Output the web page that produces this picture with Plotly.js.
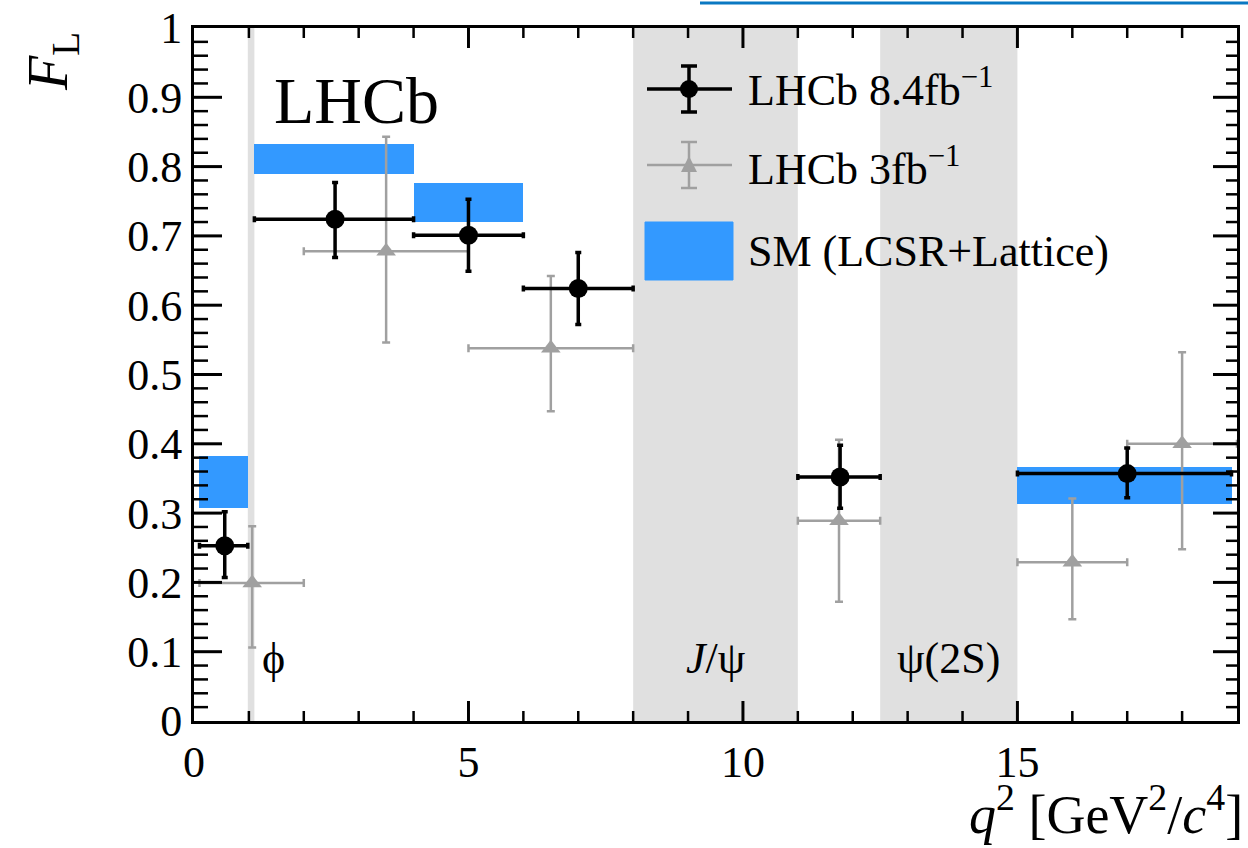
<!DOCTYPE html>
<html>
<head>
<meta charset="utf-8">
<script src="https://cdn.plot.ly/plotly-3.0.1.min.js"></script>
<style>html,body{margin:0;padding:0;background:#fff;}#plot{width:1248px;height:848px;}</style>
</head>
<body>
<div id="plot"></div>
<script>
// ---- data ----
// LHCb 8.4 fb^-1
const binLo84 = [0.1, 1.1, 4.0, 6.0, 11.0, 15.0];
const binHi84 = [0.98, 4.0, 6.0, 8.0, 12.5, 18.9];
const q2_84   = [0.56, 2.57, 5.0, 7.0, 11.77, 17.0];
const fl84    = [0.253, 0.724, 0.701, 0.624, 0.352, 0.357];
const fl84Up  = [0.302, 0.777, 0.753, 0.676, 0.398, 0.394];
const fl84Dn  = [0.207, 0.669, 0.649, 0.572, 0.307, 0.322];
// LHCb 3 fb^-1
const binLo3 = [0.1, 2.0, 5.0, 11.0, 15.0, 17.0];
const binHi3 = [2.0, 5.0, 8.0, 12.5, 17.0, 19.0];
const q2_3   = [1.06, 3.5, 6.5, 11.75, 16.0, 18.0];
const fl3    = [0.199, 0.678, 0.538, 0.289, 0.229, 0.400];
const fl3Up  = [0.281, 0.843, 0.642, 0.406, 0.321, 0.532];
const fl3Dn  = [0.106, 0.546, 0.447, 0.172, 0.147, 0.248];
// SM (LCSR+Lattice)
const smLo   = [0.1, 1.1, 4.0, 15.0];
const smHi   = [0.98, 4.0, 6.0, 18.9];
const smMin  = [0.307, 0.790, 0.720, 0.313];
const smMax  = [0.382, 0.833, 0.777, 0.367];
// vetoed regions
const vetoLo = [0.98, 8.0, 12.5];
const vetoHi = [1.1, 11.0, 15.0];
const vetoNames = ['ϕ', '<i>J</i>/ψ', 'ψ(2S)'];
const vetoLabelX = [1.45, 9.5, 13.75];

const X_RANGE = [0, 19];
const Y_RANGE = [0, 1];

const FONT = 'Liberation Serif, Times New Roman, serif';
const BLUE = '#3399ff';
const GREY = '#a0a0a0';

const traces = [
  {
    type: 'bar', name: 'SM (LCSR+Lattice)',
    x: smLo.map((l, i) => (l + smHi[i]) / 2),
    width: smLo.map((l, i) => smHi[i] - l),
    base: smMin,
    y: smMin.map((m, i) => smMax[i] - m),
    marker: {color: BLUE, line: {width: 0}},
    showlegend: false, hoverinfo: 'skip'
  },
  {
    type: 'scatter', mode: 'markers', name: 'LHCb 3fb-1',
    x: q2_3, y: fl3,
    marker: {symbol: 'triangle-up', size: 17, color: GREY},
    error_x: {type: 'data', symmetric: false,
      array: binHi3.map((h, i) => h - q2_3[i]),
      arrayminus: binLo3.map((l, i) => q2_3[i] - l),
      color: GREY, thickness: 2.5, width: 4},
    error_y: {type: 'data', symmetric: false,
      array: fl3Up.map((u, i) => u - fl3[i]),
      arrayminus: fl3Dn.map((d, i) => fl3[i] - d),
      color: GREY, thickness: 2.5, width: 4},
    showlegend: false
  },
  {
    type: 'scatter', mode: 'markers', name: 'LHCb 8.4fb-1',
    x: q2_84, y: fl84,
    marker: {symbol: 'circle', size: 19, color: '#000'},
    error_x: {type: 'data', symmetric: false,
      array: binHi84.map((h, i) => h - q2_84[i]),
      arrayminus: binLo84.map((l, i) => q2_84[i] - l),
      color: '#000', thickness: 3.5, width: 3},
    error_y: {type: 'data', symmetric: false,
      array: fl84Up.map((u, i) => u - fl84[i]),
      arrayminus: fl84Dn.map((d, i) => fl84[i] - d),
      color: '#000', thickness: 3.5, width: 3},
    showlegend: false
  }
];

// veto bands
const shapes = vetoLo.map((l, i) => ({
  type: 'rect', xref: 'x', yref: 'paper', x0: l, x1: vetoHi[i], y0: 0, y1: 1,
  fillcolor: '#e0e0e0', line: {width: 0}, layer: 'below'
}));

// ROOT-style inside ticks on all four edges (placed through the axis scales)
function xTick(v, len, w) {
  shapes.push({type: 'line', xref: 'x', yref: 'paper', ysizemode: 'pixel', yanchor: 0,
    x0: v, x1: v, y0: 0, y1: len, line: {color: '#000', width: w}, layer: 'above'});
  shapes.push({type: 'line', xref: 'x', yref: 'paper', ysizemode: 'pixel', yanchor: 1,
    x0: v, x1: v, y0: -len, y1: 0, line: {color: '#000', width: w}, layer: 'above'});
}
function yTick(v, lenL, lenR, w) {
  shapes.push({type: 'line', xref: 'paper', yref: 'y', xsizemode: 'pixel', xanchor: 0,
    x0: 0, x1: lenL, y0: v, y1: v, line: {color: '#000', width: w}, layer: 'above'});
  shapes.push({type: 'line', xref: 'paper', yref: 'y', xsizemode: 'pixel', xanchor: 1,
    x0: -lenR, x1: 0, y0: v, y1: v, line: {color: '#000', width: w}, layer: 'above'});
}
for (let i = 1; i < 19; i++) {
  if (i % 5 === 0) xTick(i, 20, 3); else xTick(i, 10, 2.5);
}
for (let j = 1; j < 50; j++) {
  const v = j / 50;
  if (j % 5 === 0) yTick(v, 28, 24, 3); else yTick(v, 14, 11, 2.5);
}

// pixel -> paper helpers for decoration (legend)
const L = 194, R = 1237, T = 28, B = 721;
const px = x => (x - L) / (R - L);
const py = y => (B - y) / (B - T);

// legend glyphs
function errGlyph(cy, color, w, half) {
  const cx = 689;
  shapes.push({type: 'line', xref: 'paper', yref: 'paper', x0: px(647), x1: px(732), y0: py(cy), y1: py(cy), line: {color: color, width: w}});
  shapes.push({type: 'line', xref: 'paper', yref: 'paper', x0: px(cx), x1: px(cx), y0: py(cy - half), y1: py(cy + half), line: {color: color, width: w}});
  shapes.push({type: 'line', xref: 'paper', yref: 'paper', x0: px(cx - 8), x1: px(cx + 8), y0: py(cy - half), y1: py(cy - half), line: {color: color, width: w}});
  shapes.push({type: 'line', xref: 'paper', yref: 'paper', x0: px(cx - 8), x1: px(cx + 8), y0: py(cy + half), y1: py(cy + half), line: {color: color, width: w}});
}
errGlyph(89, '#000', 3.5, 23);
shapes.push({type: 'circle', xref: 'paper', yref: 'paper', xsizemode: 'pixel', ysizemode: 'pixel',
  xanchor: px(689), yanchor: py(89), x0: -9, x1: 9, y0: -9, y1: 9, fillcolor: '#000', line: {width: 0}});
errGlyph(165, GREY, 2.5, 23);
shapes.push({type: 'path', xref: 'paper', yref: 'paper', xsizemode: 'pixel', ysizemode: 'pixel',
  xanchor: px(689), yanchor: py(165), path: 'M -8,-7 L 8,-7 L 0,9 Z', fillcolor: GREY, line: {width: 0}});
shapes.push({type: 'rect', xref: 'paper', yref: 'paper', x0: px(645), x1: px(733), y0: py(280), y1: py(222),
  fillcolor: BLUE, line: {color: BLUE, width: 1}});
// cropped caption line at very top of the reference
shapes.push({type: 'line', xref: 'paper', yref: 'paper', x0: px(700), x1: px(1248), y0: py(3), y1: py(3), line: {color: '#0a78c2', width: 3}});

const annotations = [
  {text: 'LHCb', xref: 'paper', yref: 'paper', x: px(272), y: py(100), xanchor: 'left', yanchor: 'middle',
   showarrow: false, font: {family: FONT, size: 66, color: '#000'}},
  {text: 'LHCb 8.4fb<sup>−1</sup>', xref: 'paper', yref: 'paper', x: px(746), y: py(88), xanchor: 'left', yanchor: 'middle',
   showarrow: false, font: {family: FONT, size: 44, color: '#000'}},
  {text: 'LHCb 3fb<sup>−1</sup>', xref: 'paper', yref: 'paper', x: px(746), y: py(166), xanchor: 'left', yanchor: 'middle',
   showarrow: false, font: {family: FONT, size: 44, color: '#000'}},
  {text: 'SM (LCSR+Lattice)', xref: 'paper', yref: 'paper', x: px(746), y: py(252), xanchor: 'left', yanchor: 'middle',
   showarrow: false, font: {family: FONT, size: 44, color: '#000'}},
  {text: '<i>F</i><sub>L</sub>', xref: 'paper', yref: 'paper', x: px(52), y: py(62), xanchor: 'center', yanchor: 'middle',
   textangle: -90, showarrow: false, font: {family: FONT, size: 56, color: '#000'}},
  {text: '<i>q</i><sup>2</sup> [GeV<sup>2</sup>/<i>c</i><sup>4</sup>]', xref: 'paper', yref: 'paper', x: px(1245), y: py(847),
   xanchor: 'right', yanchor: 'bottom', showarrow: false, font: {family: FONT, size: 54, color: '#000'}}
];
vetoNames.forEach((n, i) => annotations.push({
  text: n, xref: 'x', yref: 'y', x: vetoLabelX[i], y: 0.09, xanchor: 'center', yanchor: 'middle',
  showarrow: false, font: {family: FONT, size: 44, color: '#000'}
}));

const layout = {
  width: 1248, height: 848,
  margin: {l: L, r: 1248 - R, t: T, b: 848 - B},
  paper_bgcolor: '#fff', plot_bgcolor: '#fff',
  showlegend: false, barmode: 'overlay', bargap: 0,
  font: {family: FONT, color: '#000'},
  xaxis: {
    range: X_RANGE, dtick: 5, tick0: 0, ticks: '',
    showline: true, linewidth: 3, linecolor: '#000', mirror: true,
    showgrid: false, zeroline: false, fixedrange: true,
    tickfont: {family: FONT, size: 44, color: '#000'}
  },
  yaxis: {
    range: Y_RANGE, dtick: 0.1, tick0: 0, ticks: '',
    showline: true, linewidth: 3, linecolor: '#000', mirror: true,
    showgrid: false, zeroline: false, fixedrange: true,
    tickfont: {family: FONT, size: 44, color: '#000'}
  },
  shapes: shapes,
  annotations: annotations
};

Plotly.newPlot('plot', traces, layout, {displayModeBar: false});
</script>
</body>
</html>
